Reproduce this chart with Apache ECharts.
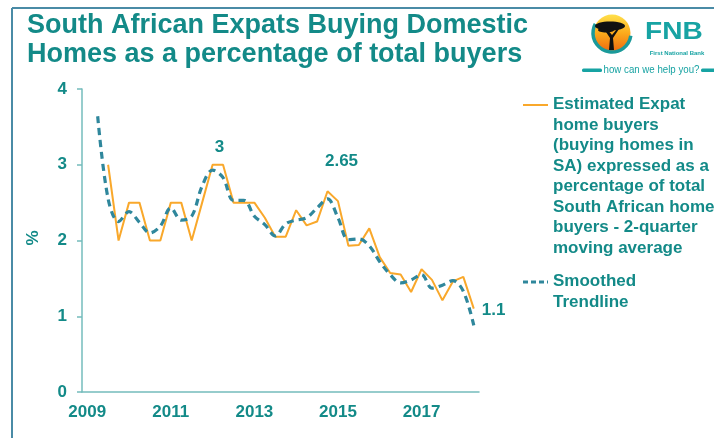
<!DOCTYPE html>
<html>
<head>
<meta charset="utf-8">
<script src="https://cdn.jsdelivr.net/npm/echarts@6/dist/echarts.min.js"></script>
<style>
  html, body { margin: 0; padding: 0; background: #ffffff; }
  #chart { width: 714px; height: 438px; }
</style>
</head>
<body>
<div id="chart"></div>
<script>
// Quarterly categories, 2009Q1 .. 2018Q2
const quarters = [
  '2009Q1','2009Q2','2009Q3','2009Q4','2010Q1','2010Q2','2010Q3','2010Q4',
  '2011Q1','2011Q2','2011Q3','2011Q4','2012Q1','2012Q2','2012Q3','2012Q4',
  '2013Q1','2013Q2','2013Q3','2013Q4','2014Q1','2014Q2','2014Q3','2014Q4',
  '2015Q1','2015Q2','2015Q3','2015Q4','2016Q1','2016Q2','2016Q3','2016Q4',
  '2017Q1','2017Q2','2017Q3','2017Q4','2018Q1','2018Q2'
];

// Estimated expat buyers, % of total buyers (2-quarter moving average)
const expatShare = [
  null, null, 3.0, 2.0, 2.5, 2.5, 2.0, 2.0,
  2.5, 2.5, 2.0, 2.5, 3.0, 3.0, 2.5, 2.5,
  2.5, 2.3, 2.05, 2.05, 2.4, 2.2, 2.25, 2.65,
  2.52, 1.93, 1.94, 2.16, 1.78, 1.57, 1.55, 1.32,
  1.62, 1.48, 1.21, 1.46, 1.52, 1.1
];

// Smoothed trendline
const trendline = [
  null, 3.64, 2.55, 2.25, 2.38, 2.24, 2.10, 2.19,
  2.43, 2.27, 2.32, 2.72, 2.93, 2.83, 2.53, 2.53,
  2.32, 2.21, 2.06, 2.22, 2.27, 2.30, 2.43, 2.55,
  2.30, 2.01, 2.02, 1.93, 1.72, 1.55, 1.44, 1.48,
  1.55, 1.37, 1.41, 1.47, 1.33, 0.88
];

const yTicks = [0, 1, 2, 3, 4];

// Points whose values are written on the chart
const labelledPoints = { 12: [7, -4], 23: [14, -16], 37: [3, 2] };

const TEAL = '#138a88';
const AXIS = '#74bcbc';
const ORANGE = '#f9a82b';
const DASH = '#2f879c';
const LOGO = '#17a3a3';
const FONT = '"Liberation Sans", Arial, sans-serif';

const expatData = expatShare.map((v, i) => {
  const off = labelledPoints[i];
  if (!off || v == null) return v;
  return {
    value: v,
    label: {
      show: true,
      position: i === 37 ? 'right' : 'top',
      offset: off,
      color: TEAL,
      fontFamily: FONT,
      fontWeight: 'bold',
      fontSize: 17,
      formatter: p => String(p.value)
    }
  };
});

const legendLines = [
  'Estimated Expat',
  'home buyers',
  '(buying homes in',
  'SA) expressed as a',
  'percentage of total',
  'South African home',
  'buyers - 2-quarter',
  'moving average'
];

const chart = echarts.init(document.getElementById('chart'), null, { renderer: 'canvas' });

chart.setOption({
  animation: false,
  backgroundColor: '#ffffff',
  grid: { left: 82, right: 235, top: 89, bottom: 46, containLabel: false },
  xAxis: {
    type: 'category',
    data: quarters,
    boundaryGap: true,
    axisLine: { lineStyle: { color: AXIS, width: 1.5 } },
    axisTick: { interval: 3, length: 5, lineStyle: { color: AXIS, width: 1.5 } },
    axisLabel: {
      interval: 7,
      margin: 12,
      color: TEAL,
      fontFamily: FONT,
      fontWeight: 'bold',
      fontSize: 17,
      formatter: v => v.slice(0, 4)
    },
    splitLine: { show: false }
  },
  yAxis: {
    type: 'value',
    min: yTicks[0],
    max: yTicks[yTicks.length - 1],
    interval: 1,
    axisLine: { show: true, lineStyle: { color: AXIS, width: 1.5 } },
    axisTick: { show: true, length: 5, lineStyle: { color: AXIS, width: 1.5 } },
    axisLabel: {
      margin: 15,
      color: TEAL,
      fontFamily: FONT,
      fontWeight: 'bold',
      fontSize: 17
    },
    splitLine: { show: false }
  },
  series: [
    {
      name: 'Estimated Expat home buyers',
      type: 'line',
      data: expatData,
      symbol: 'circle',
      symbolSize: 0,
      showSymbol: true,
      itemStyle: { color: ORANGE },
      connectNulls: false,
      lineStyle: { color: ORANGE, width: 2 },
      z: 3
    },
    {
      name: 'Smoothed Trendline',
      type: 'line',
      data: trendline,
      symbol: 'none',
      smooth: 0.35,
      lineStyle: { color: DASH, width: 3.2, type: [7, 5] },
      z: 4
    }
  ],
  graphic: [
    // slide frame
    { type: 'line', shape: { x1: 12, y1: 8, x2: 714, y2: 8 }, style: { stroke: '#4a8ba6', lineWidth: 2 }, silent: true },
    { type: 'line', shape: { x1: 12, y1: 8, x2: 12, y2: 438 }, style: { stroke: '#4a8ba6', lineWidth: 2 }, silent: true },
    // title
    {
      type: 'text', x: 27, y: 26,
      style: { text: 'South African Expats Buying Domestic', fill: TEAL, font: 'bold 27px ' + FONT, verticalAlign: 'middle' }
    },
    {
      type: 'text', x: 27, y: 55,
      style: { text: 'Homes as a percentage of total buyers', fill: TEAL, font: 'bold 27px ' + FONT, verticalAlign: 'middle' }
    },
    // y axis unit
    {
      type: 'text', x: 33, y: 238, rotation: Math.PI / 2,
      style: { text: '%', fill: TEAL, font: 'bold 17px ' + FONT, align: 'center', verticalAlign: 'middle' }
    },
    // legend: estimated series
    { type: 'line', shape: { x1: 523, y1: 105, x2: 548, y2: 105 }, style: { stroke: ORANGE, lineWidth: 2 } },
    {
      type: 'text', x: 553, y: 94.5,
      style: { text: legendLines.join('\n'), fill: TEAL, font: 'bold 17px ' + FONT, lineHeight: 20.5, verticalAlign: 'top' }
    },
    // legend: trendline
    { type: 'line', shape: { x1: 523, y1: 282, x2: 548, y2: 282 }, style: { stroke: DASH, lineWidth: 3, lineDash: [5, 3] } },
    {
      type: 'text', x: 553, y: 271.5,
      style: { text: 'Smoothed\nTrendline', fill: TEAL, font: 'bold 17px ' + FONT, lineHeight: 20.5, verticalAlign: 'top' }
    },
    // bank logo
    {
      type: 'group', silent: true,
      children: [
        {
          type: 'circle', shape: { cx: 612, cy: 33, r: 18.5 },
          style: {
            fill: new echarts.graphic.LinearGradient(0, 0, 0, 1, [
              { offset: 0, color: '#ffe04a' },
              { offset: 0.5, color: '#fbab1c' },
              { offset: 1, color: '#ee6a10' }
            ])
          }
        },
        {
          type: 'arc', shape: { cx: 612, cy: 33, r: 19, startAngle: 0.15, endAngle: Math.PI + 0.5, clockwise: true },
          style: { stroke: '#1a9a9a', lineWidth: 3.5, fill: null }
        },
        // tree canopy and trunk
        { type: 'ellipse', shape: { cx: 610, cy: 26, rx: 15, ry: 4.5 }, style: { fill: '#111111' } },
        { type: 'ellipse', shape: { cx: 606, cy: 30, rx: 8, ry: 2.5 }, style: { fill: '#111111' } },
        {
          type: 'polygon',
          shape: { points: [[609, 50], [614, 50], [613, 38], [619, 29], [617, 29], [612, 35], [606, 28], [604, 29], [610, 38]] },
          style: { fill: '#111111' }
        },
        {
          type: 'text', x: 645, y: 33, scaleX: 1.22,
          style: { text: 'FNB', fill: LOGO, font: 'bold 23px ' + FONT, verticalAlign: 'middle' }
        },
        {
          type: 'text', x: 677, y: 53,
          style: { text: 'First National Bank', fill: LOGO, font: 'bold 6px ' + FONT, align: 'center', verticalAlign: 'middle' }
        },
        { type: 'rect', shape: { x: 582, y: 68.5, width: 20, height: 3.5, r: 1.5 }, style: { fill: LOGO } },
        {
          type: 'text', x: 651.5, y: 70, scaleX: 0.88,
          style: { text: 'how can we help you?', fill: LOGO, font: '11px ' + FONT, align: 'center', verticalAlign: 'middle' }
        },
        { type: 'rect', shape: { x: 701, y: 68.5, width: 15, height: 3.5, r: 1.5 }, style: { fill: LOGO } }
      ]
    }
  ]
});
</script>
</body>
</html>
